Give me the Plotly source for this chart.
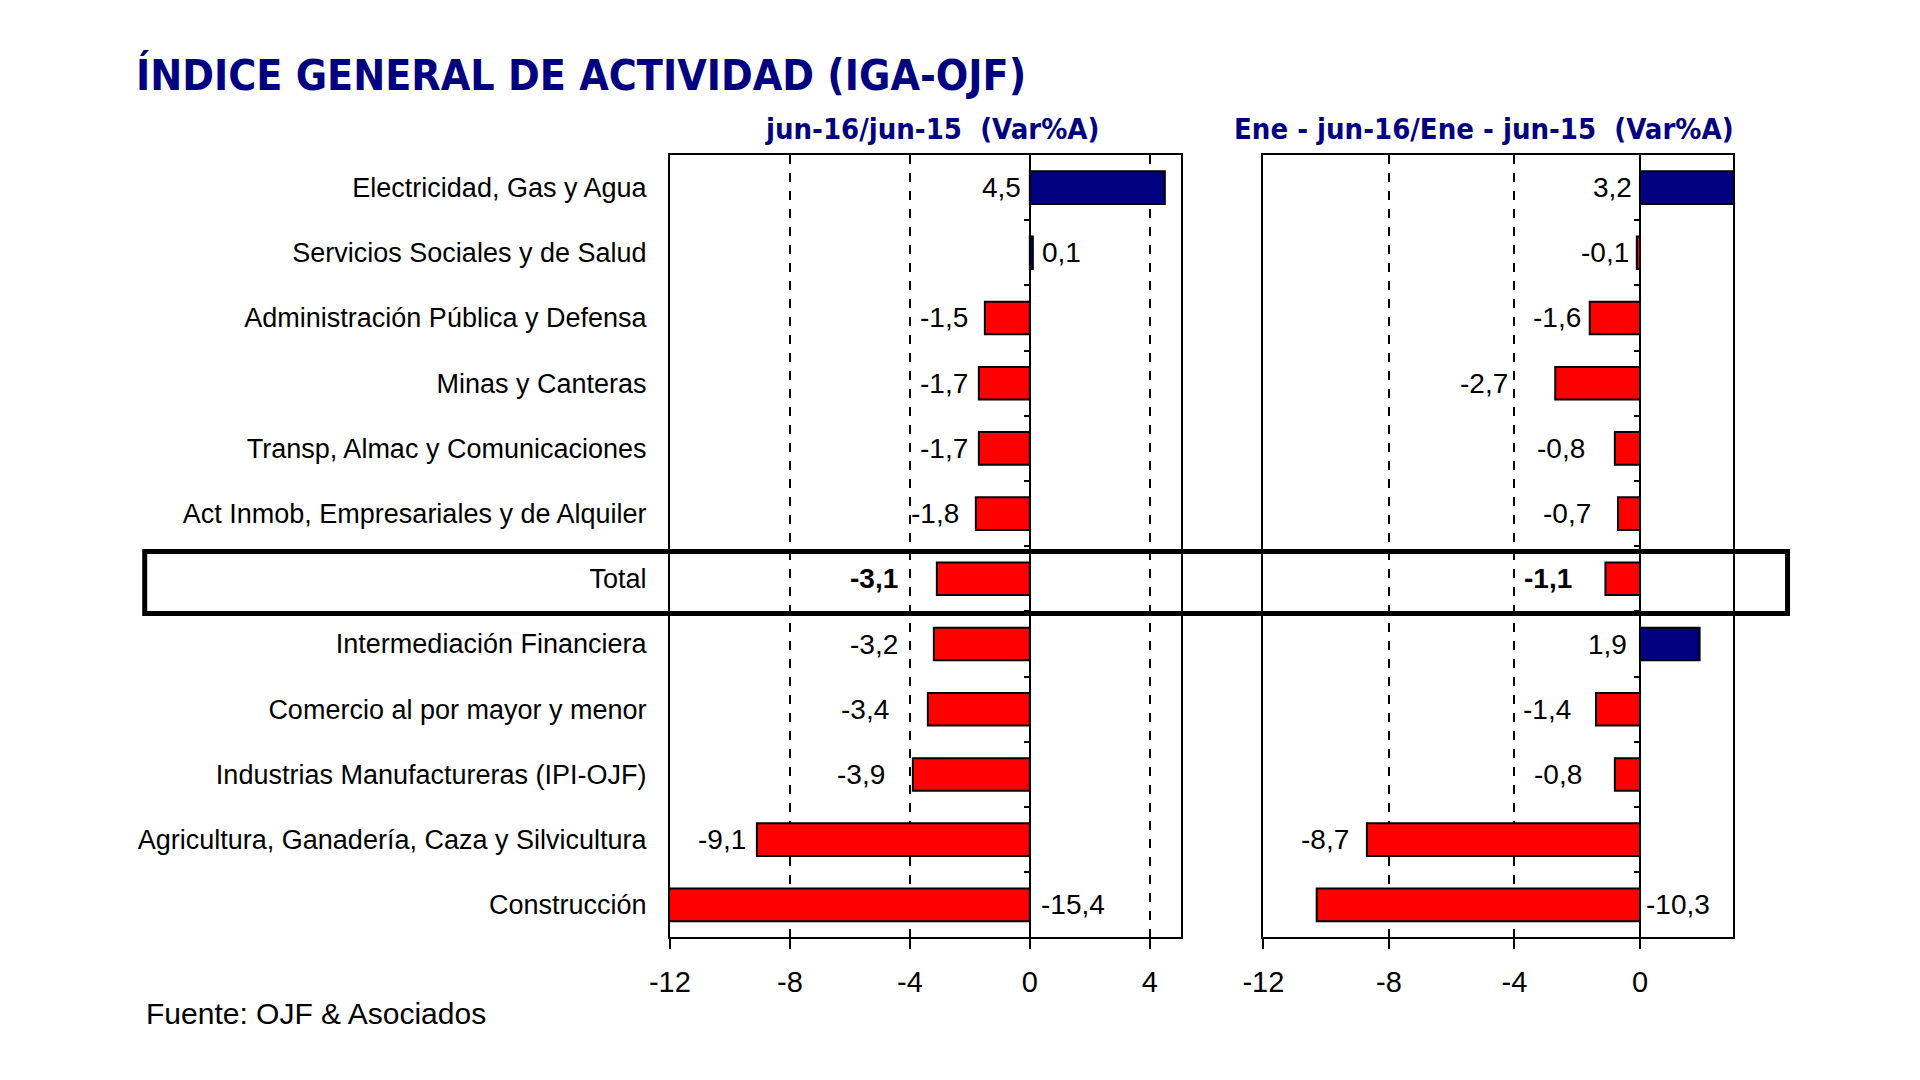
import plotly.graph_objects as go

# datos (Var% anual)
sectores = [
    "Electricidad, Gas y Agua",
    "Servicios Sociales y de Salud",
    "Administración Pública y Defensa",
    "Minas y Canteras",
    "Transp, Almac y Comunicaciones",
    "Act Inmob, Empresariales y de Alquiler",
    "Total",
    "Intermediación Financiera",
    "Comercio al por mayor y menor",
    "Industrias Manufactureras (IPI-OJF)",
    "Agricultura, Ganadería, Caza y Silvicultura",
    "Construcción",
]
var_mensual = [4.5, 0.1, -1.5, -1.7, -1.7, -1.8, -3.1, -3.2, -3.4, -3.9, -9.1, -15.4]
var_acumulada = [3.2, -0.1, -1.6, -2.7, -0.8, -0.7, -1.1, 1.9, -1.4, -0.8, -8.7, -10.3]

# lado de la etiqueta respecto a la barra
lado_mensual = ["izq", "der"] + ["izq"] * 9 + ["der"]
lado_acumulada = ["izq"] * 11 + ["der"]

# separación (px) entre etiqueta y barra, como en el original
sep_mensual = [7, 7, 15, 9, 9, 15, 37, 34, 37, 26, 9, 9]
sep_acumulada = [6, 6, 7, 45, 28, 25, 31, 11, 23, 31, 16, 4]

ticks_mensual = [-12, -8, -4, 0, 4]
ticks_acumulada = [-12, -8, -4, 0]

AZUL = "#000080"
ROJO = "#FF0000"
FUENTE = "Liberation Sans, Arial, sans-serif"
FUENTE_TIT = "DejaVu Sans Condensed, DejaVu Sans, Verdana, sans-serif"

RANGO_1 = [-12, 5.05]
RANGO_2 = [-12, 2.97]
DOM_1 = [0.3375, 0.6068]
DOM_2 = [0.65, 0.8974]
DOM_Y = [0.1394, 0.8639]


def etiqueta(v):
    return f"{v:.1f}".replace(".", ",")


def pos_cero(rango, dom):
    # posicion en papel del valor 0
    return dom[0] + (0 - rango[0]) / (rango[1] - rango[0]) * (dom[1] - dom[0])


fig = go.Figure()

for vals, xa, ya in [(var_mensual, "x", "y"), (var_acumulada, "x2", "y2")]:
    fig.add_trace(go.Bar(
        x=vals, y=sectores, orientation="h",
        xaxis=xa, yaxis=ya, width=0.5,
        marker=dict(color=[AZUL if v > 0 else ROJO for v in vals],
                    line=dict(color="black", width=2)),
        showlegend=False, hoverinfo="x+y",
    ))

# trazas vacias para que se dibujen los ejes de marcas
for xa, ya in [("x", "y3"), ("x2", "y4")]:
    fig.add_trace(go.Scatter(x=[], y=[], xaxis=xa, yaxis=ya,
                             showlegend=False, hoverinfo="skip"))

# etiquetas de valor
for vals, lados, seps, xref, yref in [(var_mensual, lado_mensual, sep_mensual, "x", "y"),
                                      (var_acumulada, lado_acumulada, sep_acumulada, "x2", "y2")]:
    for cat, v, lado, sep in zip(sectores, vals, lados, seps):
        txt = f"<b>{etiqueta(v)}</b>" if cat == "Total" else etiqueta(v)
        if lado == "izq":
            fig.add_annotation(x=min(v, 0), y=cat, xref=xref, yref=yref,
                               text=txt, showarrow=False, xanchor="right",
                               xshift=-sep, font=dict(family=FUENTE, size=28, color="black"))
        else:
            fig.add_annotation(x=max(v, 0), y=cat, xref=xref, yref=yref,
                               text=txt, showarrow=False, xanchor="left",
                               xshift=sep, font=dict(family=FUENTE, size=28, color="black"))

eje_x = dict(
    showline=True, mirror=True, linecolor="black", linewidth=2,
    ticks="outside", ticklen=10, tickwidth=2, tickcolor="black",
    showgrid=True, gridcolor="black", gridwidth=1.5, griddash="dash",
    zeroline=True, zerolinecolor="black", zerolinewidth=2,
    tickfont=dict(family=FUENTE, size=29, color="black"),
    ticklabelstandoff=8, fixedrange=True,
)
eje_y = dict(
    showline=True, mirror=True, linecolor="black", linewidth=2,
    showgrid=False, zeroline=False, ticks="",
    range=[len(sectores) - 0.5, -0.5],
    categoryorder="array", categoryarray=sectores, fixedrange=True,
)
# marcas pequeñas sobre el eje cero, entre categorias
eje_marcas = dict(
    type="linear", anchor="free", range=[len(sectores) - 0.5, -0.5],
    tickvals=[i + 0.5 for i in range(len(sectores) - 1)],
    ticks="outside", ticklen=6, tickwidth=2, tickcolor="black",
    showticklabels=False, showline=False, showgrid=False, zeroline=False,
    domain=DOM_Y, fixedrange=True,
)

fig.update_layout(
    width=1920, height=1080,
    margin=dict(l=0, r=0, t=0, b=0),
    paper_bgcolor="white", plot_bgcolor="white",
    xaxis=dict(eje_x, domain=DOM_1, range=RANGO_1,
               tickvals=ticks_mensual, ticktext=[str(t) for t in ticks_mensual],
               anchor="y"),
    xaxis2=dict(eje_x, domain=DOM_2, range=RANGO_2,
                tickvals=ticks_acumulada, ticktext=[str(t) for t in ticks_acumulada],
                anchor="y2"),
    yaxis=dict(eje_y, domain=DOM_Y, anchor="x",
               tickfont=dict(family=FUENTE, size=27, color="black"),
               ticklabelstandoff=16),
    yaxis2=dict(eje_y, domain=DOM_Y, anchor="x2", showticklabels=False),
    yaxis3=dict(eje_marcas, overlaying="y", position=pos_cero(RANGO_1, DOM_1)),
    yaxis4=dict(eje_marcas, overlaying="y2", position=pos_cero(RANGO_2, DOM_2)),
)

# recuadro de la fila Total
i_total = sectores.index("Total")
fig.add_shape(type="rect", xref="paper", yref="y",
              x0=117 / 1920, x1=1778 / 1920, y0=i_total - 0.42, y1=i_total + 0.53,
              line=dict(color="black", width=5), fillcolor="rgba(0,0,0,0)")

# títulos
fig.add_annotation(text="<b>ÍNDICE GENERAL DE ACTIVIDAD (IGA-OJF)</b>",
                   xref="paper", yref="paper", x=106 / 1920, y=1 - 67 / 1080,
                   xanchor="left", yanchor="middle", showarrow=False,
                   font=dict(family=FUENTE_TIT, size=42.5, color=AZUL))
fig.add_annotation(text="<b>jun-16/jun-15  (Var%A)</b>",
                   xref="paper", yref="paper", x=913 / 1920, y=1 - 121 / 1080,
                   xanchor="center", yanchor="middle", showarrow=False,
                   font=dict(family=FUENTE_TIT, size=29, color=AZUL))
fig.add_annotation(text="<b>Ene - jun-16/Ene - jun-15  (Var%A)</b>",
                   xref="paper", yref="paper", x=1726 / 1920, y=1 - 121 / 1080,
                   xanchor="right", yanchor="middle", showarrow=False,
                   font=dict(family=FUENTE_TIT, size=29, color=AZUL))
fig.add_annotation(text="Fuente: OJF & Asociados",
                   xref="paper", yref="paper", x=116 / 1920, y=1 - 1005 / 1080,
                   xanchor="left", yanchor="middle", showarrow=False,
                   font=dict(family=FUENTE, size=30, color="black"))

fig.write_html("out.html")
